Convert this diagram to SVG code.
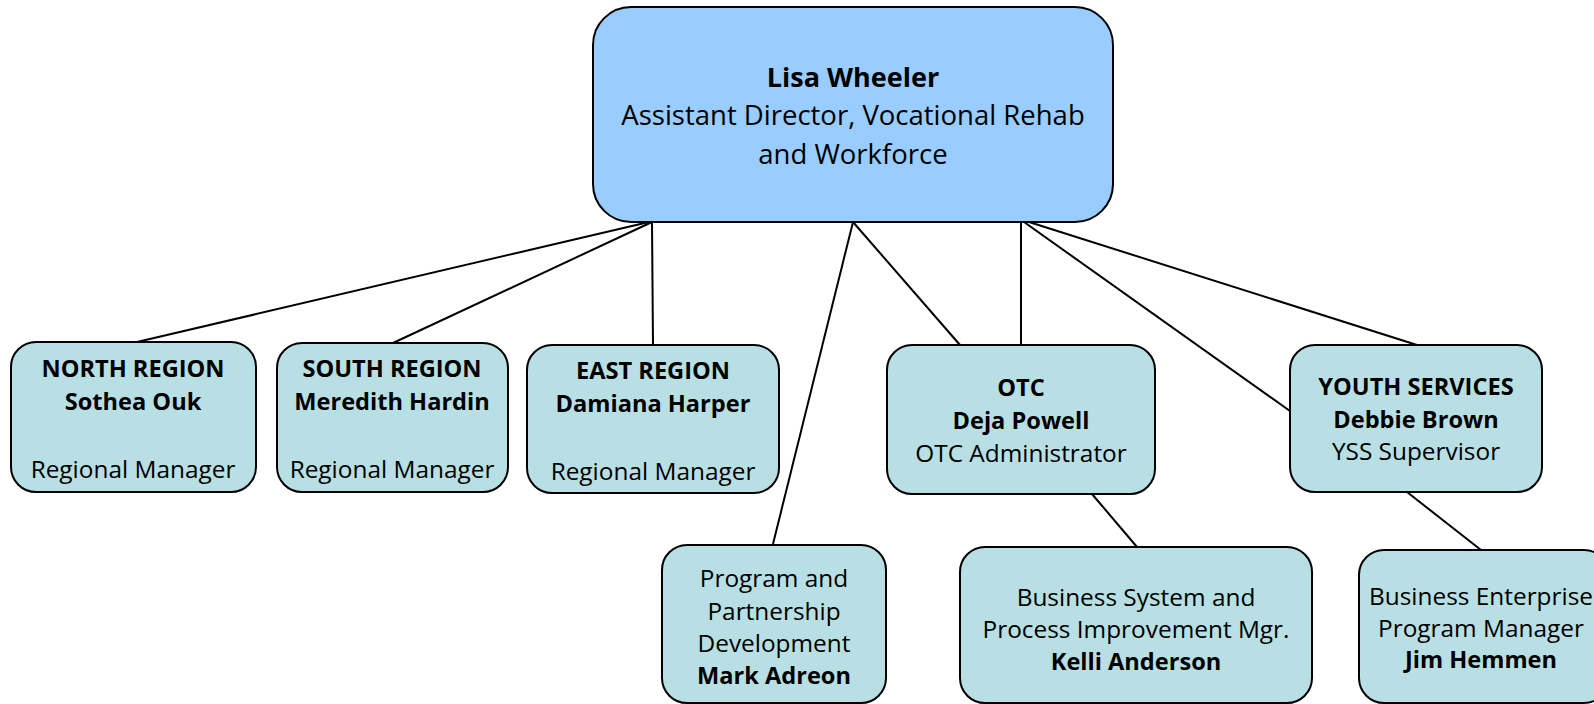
<svg xmlns="http://www.w3.org/2000/svg" width="1594" height="704" viewBox="0 0 1594 704">
<style>
  .box { fill: #B8DFE3; stroke: #000; stroke-width: 2; }
  .top { fill: #99CCFF; stroke: #000; stroke-width: 2; }
  text { font-family: "Open Sans", "Liberation Sans", sans-serif; fill: #000; text-anchor: middle; }
  .t { font-size: 27.5px; }
  .s { font-size: 24.4px; }
  .b { font-weight: bold; font-size: 23.6px; }
  .t.b { font-size: 27px; }
  .conn line { stroke: #000; stroke-width: 2; fill: none; }
</style>
<rect width="1594" height="704" fill="#fff"/>
<g class="conn" id="connectors">
  <line x1="649" y1="222" x2="137" y2="342"/>
  <line x1="652" y1="222" x2="393" y2="343"/>
  <line x1="652" y1="222" x2="653" y2="345"/>
  <line x1="853" y1="222" x2="773" y2="544"/>
  <line x1="853" y1="222" x2="960" y2="345"/>
  <line x1="1021" y1="222" x2="1021" y2="345"/>
  <line x1="1024" y1="222" x2="1290" y2="411"/>
  <line x1="1029" y1="222" x2="1417" y2="345"/>
  <line x1="1092" y1="494" x2="1137" y2="547"/>
  <line x1="1407" y1="492" x2="1481" y2="550"/>
</g>
<g id="lisa">
  <rect class="top" x="593" y="7" width="520" height="215" rx="38"/>
  <text class="t b" x="853" y="87">Lisa Wheeler</text>
  <text class="t" x="853" y="125">Assistant Director, Vocational Rehab</text>
  <text class="t" x="853" y="164">and Workforce</text>
</g>
<g id="north">
  <rect class="box" x="11" y="342" width="245" height="150" rx="25"/>
  <text class="s b" x="133" y="377">NORTH REGION</text>
  <text class="s b" x="133" y="410">Sothea Ouk</text>
  <text class="s" x="133" y="478">Regional Manager</text>
</g>
<g id="south">
  <rect class="box" x="277" y="343" width="231" height="149" rx="25"/>
  <text class="s b" x="392" y="377">SOUTH REGION</text>
  <text class="s b" x="392" y="410">Meredith Hardin</text>
  <text class="s" x="392" y="478">Regional Manager</text>
</g>
<g id="east">
  <rect class="box" x="527" y="345" width="252" height="148" rx="25"/>
  <text class="s b" x="653" y="379">EAST REGION</text>
  <text class="s b" x="653" y="412">Damiana Harper</text>
  <text class="s" x="653" y="480">Regional Manager</text>
</g>
<g id="otc">
  <rect class="box" x="887" y="345" width="268" height="149" rx="25"/>
  <text class="s b" x="1021" y="396">OTC</text>
  <text class="s b" x="1021" y="428.5">Deja Powell</text>
  <text class="s" x="1021" y="461.5">OTC Administrator</text>
</g>
<g id="youth">
  <rect class="box" x="1290" y="345" width="252" height="147" rx="25"/>
  <text class="s b" x="1416" y="394.5">YOUTH SERVICES</text>
  <text class="s b" x="1416" y="427.5">Debbie Brown</text>
  <text class="s" x="1416" y="459.5">YSS Supervisor</text>
</g>
<g id="program">
  <rect class="box" x="662" y="545" width="224" height="158" rx="25"/>
  <text class="s" x="774" y="587">Program and</text>
  <text class="s" x="774" y="619.5">Partnership</text>
  <text class="s" x="774" y="652">Development</text>
  <text class="s b" x="774" y="683.5">Mark Adreon</text>
</g>
<g id="bizsys">
  <rect class="box" x="960" y="547" width="352" height="156" rx="25"/>
  <text class="s" x="1136" y="605.5">Business System and</text>
  <text class="s" x="1136" y="637.5">Process Improvement Mgr.</text>
  <text class="s b" x="1136" y="669.5">Kelli Anderson</text>
</g>
<g id="bizent">
  <rect class="box" x="1359" y="550" width="250" height="153" rx="25"/>
  <text class="s" x="1481" y="605">Business Enterprise</text>
  <text class="s" x="1481" y="637">Program Manager</text>
  <text class="s b" x="1481" y="668">Jim Hemmen</text>
</g>
</svg>
